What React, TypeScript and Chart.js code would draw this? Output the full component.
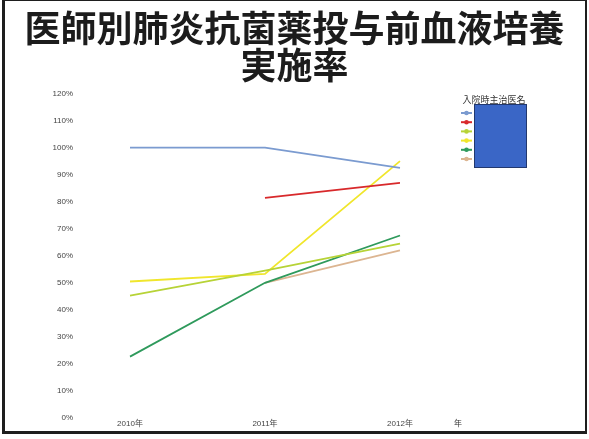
import React, { useEffect, useRef } from 'react';
import { Chart, registerables } from 'chart.js';

Chart.register(...registerables);

const titleLines = ['医師別肺炎抗菌薬投与前血液培養', '実施率'];
const categories = ['2010年', '2011年', '2012年'];
const xUnit = '年';
const legendTitle = '入院時主治医名';
const doctorNames = ['医師A', '医師B', '医師C', '医師D', '医師E', '医師F'];
const doctorA = [100, 100, 92.5];
const doctorB = [null, 81.4, 87];
const doctorC = [45.3, 54.5, 64.5];
const doctorD = [50.5, 53.3, 95];
const doctorE = [22.7, 50, 67.5];
const doctorF = [null, 50, 62];
const seriesColors = ['#7b9bd0', '#d8292b', '#b7d337', '#f0e62c', '#2f9a5c', '#dcb591'];
const yMin = 0;
const yMax = 120;
const yStep = 10;

const decorPlugin = {
  id: 'decor',
  afterDraw(chart: any) {
    const ctx = chart.ctx as CanvasRenderingContext2D;
    const area = chart.chartArea;
    ctx.save();
    // x axis unit
    ctx.fillStyle = '#333';
    ctx.font = "8px 'Noto Sans CJK JP', sans-serif";
    ctx.textAlign = 'center';
    ctx.textBaseline = 'middle';
    ctx.fillText(xUnit, area.right + 58, area.bottom + 5);

    // legend
    ctx.font = "9px 'Noto Sans CJK JP', sans-serif";
    ctx.fillStyle = '#333';
    ctx.fillText(legendTitle, 494, 100);
    chart.data.datasets.forEach((ds: any, i: number) => {
      const y = 113 + i * 9.2;
      ctx.strokeStyle = ds.borderColor;
      ctx.lineWidth = 2;
      ctx.beginPath();
      ctx.moveTo(461, y);
      ctx.lineTo(472, y);
      ctx.stroke();
      ctx.fillStyle = ds.borderColor;
      ctx.beginPath();
      ctx.arc(466.5, y, 2.3, 0, Math.PI * 2);
      ctx.fill();
    });
    ctx.fillStyle = '#3a66c6';
    ctx.fillRect(474, 104, 53, 64);
    ctx.strokeStyle = '#22386e';
    ctx.lineWidth = 1;
    ctx.strokeRect(474.5, 104.5, 52, 63);

    // frame
    ctx.fillStyle = '#1e1e1e';
    ctx.fillRect(2, 0, 3, 434);
    ctx.fillRect(585, 0, 2, 434);
    ctx.fillRect(2, 431, 585, 3);
    ctx.fillRect(2, 0, 585, 1);
    ctx.restore();
  },
};

export default function App() {
  const ref = useRef<HTMLCanvasElement | null>(null);

  useEffect(() => {
    if (!ref.current) return;
    const series = [doctorA, doctorB, doctorC, doctorD, doctorE, doctorF];
    const chart = new Chart(ref.current, {
      type: 'line',
      data: {
        labels: categories,
        datasets: series.map((d, i) => ({
          label: doctorNames[i],
          data: d,
          borderColor: seriesColors[i],
          backgroundColor: seriesColors[i],
          borderWidth: 1.8,
          pointRadius: 0,
          tension: 0,
          spanGaps: false,
          yAxisID: 'y',
        })),
      },
      options: {
        responsive: false,
        animation: false,
        layout: { padding: { left: 0, right: 0, top: 0, bottom: 11 } },
        plugins: {
          legend: { display: false },
          tooltip: { enabled: false },
          title: {
            display: true,
            text: titleLines,
            color: '#1c1c1c',
            font: { family: "'Noto Sans CJK JP', sans-serif", size: 36, weight: 'bold', lineHeight: 1.05 },
            padding: { top: 9, bottom: 9 },
          },
        },
        scales: {
          x: {
            type: 'category',
            offset: false,
            grid: { display: false, drawTicks: false },
            border: { display: false },
            ticks: {
              color: '#444',
              font: { family: "'Liberation Sans', 'Noto Sans CJK JP', sans-serif", size: 8 },
              padding: 1,
              maxRotation: 0,
            },
            afterFit: (scale: any) => {
              scale.height = 10;
            },
          },
          y: {
            min: yMin,
            max: yMax,
            grid: { display: false, drawTicks: false },
            border: { display: false },
            ticks: {
              stepSize: yStep,
              color: '#444',
              font: { family: "'Liberation Sans', sans-serif", size: 8 },
              padding: 57,
              callback: (v: any) => `${v}%`,
            },
            afterFit: (scale: any) => {
              scale.width = 130;
              scale.paddingTop = 5;
              scale.paddingBottom = 5;
            },
          },
          side: {
            type: 'linear',
            position: 'right',
            display: true,
            grid: { display: false, drawTicks: false },
            border: { display: false },
            ticks: { display: false },
            afterFit: (scale: any) => {
              scale.width = 189;
              scale.paddingTop = 0;
              scale.paddingBottom = 0;
            },
          },
        },
      },
      plugins: [decorPlugin],
    } as any);
    return () => chart.destroy();
  }, []);

  return (
    <div style={{ position: 'fixed', left: 0, top: 0, width: 589, height: 439, background: '#fff' }}>
      <canvas ref={ref} width={589} height={439} style={{ display: 'block', width: 589, height: 439 }} />
    </div>
  );
}
